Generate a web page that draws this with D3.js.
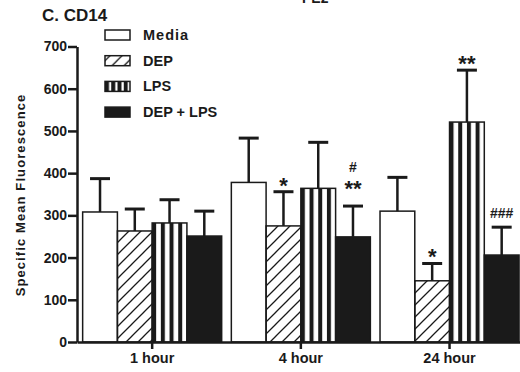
<!DOCTYPE html>
<html>
<head>
<meta charset="utf-8">
<script src="https://cdnjs.cloudflare.com/ajax/libs/d3/7.8.5/d3.min.js"></script>
<style>
  body { margin: 0; background: #fff; }
  svg { display: block; font-family: "Liberation Sans", Arial, sans-serif; font-weight: bold; }
  .axis path, .axis line { stroke: #1a1a1a; stroke-width: 2.5; }
  .axis text { font-weight: bold; fill: #1a1a1a; font-family: "Liberation Sans", Arial, sans-serif; }
</style>
</head>
<body>
<div id="chart"></div>
<script>
// data
const times = ['1 hour', '4 hour', '24 hour'];
const series = ['Media', 'DEP', 'LPS', 'DEP + LPS'];
const media  = [308, 378, 310];
const dep    = [263, 275, 145];
const lps    = [282, 364, 521];
const depLps = [251, 249, 206];
const mediaErr  = [79, 105, 80];
const depErr    = [52, 81, 41];
const lpsErr    = [55, 109, 123];
const depLpsErr = [59, 73, 66];
const yTicks = [0, 100, 200, 300, 400, 500, 600, 700];
const notes = [
  { time: '4 hour',  s: 'DEP',       lines: ['*'] },
  { time: '4 hour',  s: 'DEP + LPS', lines: ['#', '**'] },
  { time: '24 hour', s: 'DEP',       lines: ['*'] },
  { time: '24 hour', s: 'LPS',       lines: ['**'] },
  { time: '24 hour', s: 'DEP + LPS', lines: ['###'] }
];

const W = 520, H = 372;
const ink = '#1a1a1a';
const vals = [media, dep, lps, depLps];
const errs = [mediaErr, depErr, lpsErr, depLpsErr];

const rows = [];
times.forEach((t, i) => series.forEach((s, j) => {
  rows.push({ time: t, s: s, si: j, v: vals[j][i], e: errs[j][i] });
}));

const svg = d3.select('#chart').append('svg').attr('width', W).attr('height', H);

// patterns
const defs = svg.append('defs');
const hatch = defs.append('pattern')
  .attr('id', 'hatch').attr('patternUnits', 'userSpaceOnUse')
  .attr('width', 12).attr('height', 12);
hatch.append('path')
  .attr('d', 'M0,12 L12,0 M-3,3 L3,-3 M9,15 L15,9')
  .attr('stroke', ink).attr('stroke-width', 1.3);

const stripes = defs.append('pattern')
  .attr('id', 'stripes').attr('patternUnits', 'objectBoundingBox')
  .attr('patternContentUnits', 'userSpaceOnUse')
  .attr('width', 0.25).attr('height', 1);
stripes.append('rect').attr('x', 0).attr('y', 0).attr('width', 4).attr('height', 400).attr('fill', ink);

const fills = { 'Media': '#fff', 'DEP': 'url(#hatch)', 'LPS': 'url(#stripes)', 'DEP + LPS': ink };

// scales
const y = d3.scaleLinear().domain([0, 700]).range([342, 46.5]);
const x = d3.scaleBand().domain(times).range([77, 524.7]).paddingInner(0.065).paddingOuter(0.038);
const xs = d3.scaleBand().domain(series).range([0, x.bandwidth()]);

// bars
const g = svg.append('g');
g.selectAll('rect.bar').data(rows).enter().append('rect')
  .attr('class', 'bar')
  .attr('x', d => x(d.time) + xs(d.s))
  .attr('y', d => y(d.v))
  .attr('width', xs.bandwidth())
  .attr('height', d => y(0) - y(d.v))
  .attr('fill', d => fills[d.s])
  .attr('stroke', ink).attr('stroke-width', 1.5);

// error bars (upper only)
const eb = g.selectAll('g.err').data(rows).enter().append('g').attr('class', 'err');
eb.append('line')
  .attr('x1', d => x(d.time) + xs(d.s) + xs.bandwidth() / 2)
  .attr('x2', d => x(d.time) + xs(d.s) + xs.bandwidth() / 2)
  .attr('y1', d => y(d.v)).attr('y2', d => y(d.v + d.e))
  .attr('stroke', ink).attr('stroke-width', 2.5);
eb.append('line')
  .attr('x1', d => x(d.time) + xs(d.s) + xs.bandwidth() / 2 - 10)
  .attr('x2', d => x(d.time) + xs(d.s) + xs.bandwidth() / 2 + 10)
  .attr('y1', d => y(d.v + d.e)).attr('y2', d => y(d.v + d.e))
  .attr('stroke', ink).attr('stroke-width', 3);

// significance marks
notes.forEach(n => {
  const r = rows.find(d => d.time === n.time && d.s === n.s);
  const cx = x(r.time) + xs(r.s) + xs.bandwidth() / 2;
  let base = y(r.v + r.e) + (n.lines.length > 1 ? -11 : 0);
  n.lines.slice().reverse().forEach((txt, k) => {
    const star = txt[0] === '*';
    const by = k === 0 ? (star ? base + 1 : base - 9) : base - 24;
    svg.append('text')
      .attr('x', cx).attr('y', by)
      .attr('text-anchor', 'middle')
      .attr('font-size', star ? 22 : 14)
      .attr('fill', ink)
      .text(txt);
    base = by;
  });
});

// axes
const yAxis = svg.append('g').attr('class', 'axis')
  .attr('transform', 'translate(77,0)')
  .call(d3.axisLeft(y).tickValues(yTicks).tickSize(9).tickSizeOuter(0).tickPadding(1));
yAxis.selectAll('text').style('font-size', '14px');
const xAxis = svg.append('g').attr('class', 'axis')
  .attr('transform', 'translate(0,342)')
  .call(d3.axisBottom(x).tickSize(7).tickSizeOuter(0).tickPadding(4));
xAxis.selectAll('text').style('font-size', '14.5px');

// y label
svg.append('text')
  .attr('transform', 'translate(24.5,195) rotate(-90)')
  .attr('text-anchor', 'middle')
  .attr('font-size', 13).attr('letter-spacing', 1.1)
  .attr('fill', ink)
  .text('Specific Mean Fluorescence');

// title
svg.append('text').attr('x', 42).attr('y', 21).attr('font-size', 17).attr('fill', ink).text('C. CD14');
svg.append('text').attr('x', 302).attr('y', 3).attr('font-size', 14).attr('fill', ink).text('PE2');

// legend
const lg = svg.append('g').attr('transform', 'translate(105,35)');
const li = lg.selectAll('g').data(series).enter().append('g')
  .attr('transform', (d, i) => `translate(0,${i * 25.7})`);
li.append('rect')
  .attr('x', 0).attr('y', -5).attr('width', 25).attr('height', 10)
  .attr('fill', d => fills[d]).attr('stroke', ink).attr('stroke-width', 1.5);
li.append('text')
  .attr('x', 38).attr('y', 5)
  .attr('font-size', 14.5)
  .attr('letter-spacing', d => d === 'Media' ? 1 : 0)
  .attr('fill', ink)
  .text(d => d);
</script>
</body>
</html>
